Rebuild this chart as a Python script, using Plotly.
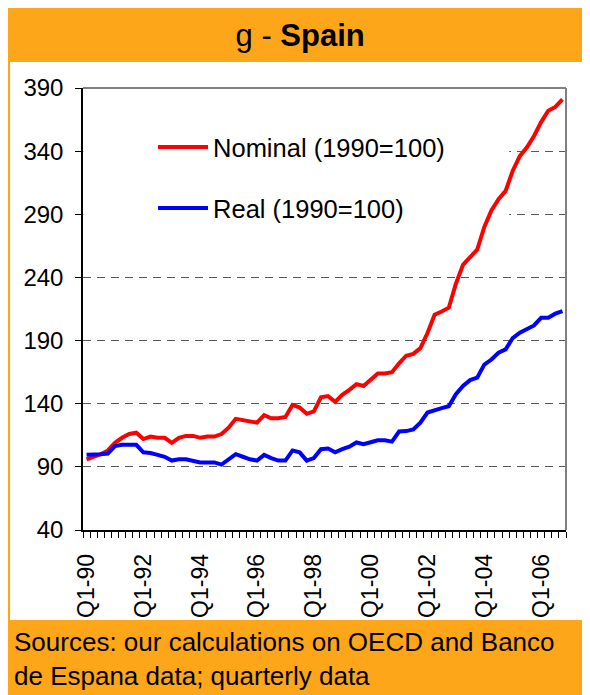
import plotly.graph_objects as go

years = ["90", "91", "92", "93", "94", "95", "96", "97", "98",
         "99", "00", "01", "02", "03", "04", "05", "06"]
quarters = [f"Q{q}-{y}" for y in years for q in range(1, 5)]

tick_labels = ["Q1-90", "Q1-92", "Q1-94", "Q1-96", "Q1-98",
               "Q1-00", "Q1-02", "Q1-04", "Q1-06"]

nominal = [
    96, 98, 100, 103, 109, 113, 116, 117,
    112, 114, 113, 113, 109, 113, 114.5, 114.5,
    113, 114, 114, 116, 121, 128, 127, 126.5,
    125, 131, 128.5, 128.5, 129.5, 139, 137, 132,
    134, 145, 146, 141.5, 147, 151, 155.5, 154,
    158.5, 164, 164, 165, 172, 178, 179.5, 184,
    196, 210.5, 213, 216, 235, 250, 256, 262,
    280, 293, 302, 308.5, 324.5, 336, 343, 352,
    363, 372, 375, 381,
]

real = [
    99.5, 99.5, 100, 100.5, 106.5, 107.5, 107.5, 107.5,
    101.5, 101, 99.5, 98, 95, 96, 96, 95,
    93.5, 93.5, 93.5, 91.8, 96, 100, 98, 96,
    95, 99.5, 97, 95, 95, 103, 101.5, 95,
    97, 104, 104.5, 101.5, 104, 106, 109.3, 108,
    109.5, 111, 111, 110, 118, 118.3, 119.6, 125,
    133, 135, 136.5, 138, 147.5, 154, 158.7, 160.6,
    171, 175, 180.4, 183, 192, 196.3, 199.4, 202,
    208, 208, 211.3, 213.4,
]

ORANGE = "#FDA61A"
FONT = "Liberation Sans, Arial, sans-serif"

fig = go.Figure()

fig.add_trace(go.Scatter(
    x=quarters, y=nominal, mode="lines",
    name="Nominal (1990=100)", legendgroup="nominal",
    line=dict(color="#FF0000", width=4)
))

fig.add_trace(go.Scatter(
    x=quarters, y=real, mode="lines",
    name="Real (1990=100)", legendgroup="real",
    line=dict(color="#0000FF", width=4)
))

fig.update_layout(
    width=582,
    height=687,
    margin=dict(l=75, r=24, t=80, b=165),
    paper_bgcolor=ORANGE,
    plot_bgcolor="rgba(0,0,0,0)",
    font=dict(family=FONT, color="black"),
    title=dict(
        text="g - <b>Spain</b>",
        x=0.502, xanchor="center",
        y=0.961, yanchor="middle",
        font=dict(size=31, color="black")
    ),
    legend=dict(
        x=0.145, xanchor="left",
        y=0.919, yanchor="top",
        bgcolor="rgba(0,0,0,0)",
        font=dict(size=25.5),
        itemwidth=50,
        traceorder="grouped",
        tracegroupgap=25
    ),
    showlegend=True
)

fig.update_xaxes(
    type="category",
    range=[-0.5, len(quarters) - 0.5],
    tickmode="array",
    tickvals=quarters,
    ticktext=[q if q in tick_labels else "" for q in quarters],
    tickson="boundaries",
    ticks="outside",
    ticklen=6,
    tickcolor="black",
    tickangle=-90,
    tickfont=dict(size=23),
    ticklabelstandoff=13,
    showline=True,
    linecolor="black",
    linewidth=1.5,
    showgrid=False,
    zeroline=False
)

fig.update_yaxes(
    range=[40, 390],
    tick0=40,
    dtick=50,
    ticks="outside",
    ticklen=6,
    tickcolor="black",
    tickfont=dict(size=24),
    ticklabelstandoff=7,
    showline=True,
    linecolor="black",
    linewidth=1.5,
    showgrid=True,
    gridcolor="#595959",
    gridwidth=1.2,
    griddash="8px,6px",
    zeroline=False
)

# white chart panel between the orange title and footer bands
fig.add_shape(type="rect", xref="paper", yref="paper",
              x0=-0.151, x1=1.06, y0=-0.2036, y1=1.0588,
              fillcolor="white", line=dict(width=0), layer="below")
# legend area hides the upper gridlines
fig.add_shape(type="rect", xref="x", yref="y",
              x0=-0.45, x1=59.5, y0=262, y1=372,
              fillcolor="white", line=dict(width=0), layer="between")
# grey plot-area border on top and right
fig.add_shape(type="line", xref="paper", yref="paper",
              x0=0, x1=1, y0=1, y1=1,
              line=dict(color="#808080", width=2))
fig.add_shape(type="line", xref="paper", yref="paper",
              x0=1, x1=1, y0=0, y1=1,
              line=dict(color="#808080", width=2))

fig.add_annotation(
    xref="paper", yref="paper",
    x=-0.147, y=-0.292,
    xanchor="left", yanchor="middle", align="left",
    showarrow=False,
    text="Sources: our calculations on OECD and Banco<br>de Espana data; quarterly data",
    font=dict(size=26, color="black")
)

fig.write_html("out.html")
